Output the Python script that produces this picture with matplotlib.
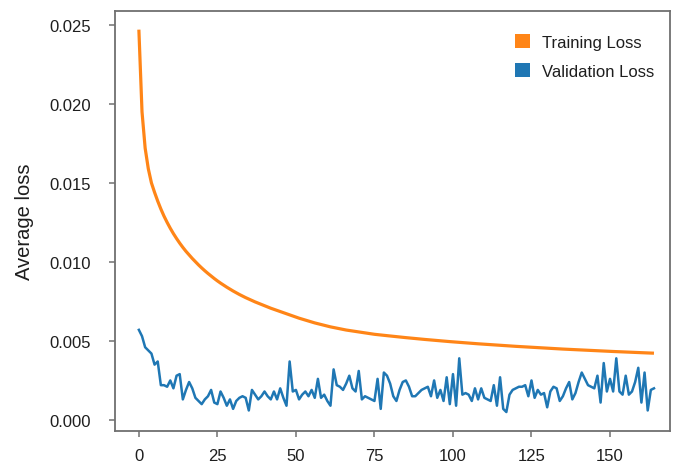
import numpy as np
import matplotlib
matplotlib.use("Agg")
import matplotlib.pyplot as plt
from matplotlib.patches import Patch

training_loss = [
    0.02470, 0.01950, 0.01720, 0.01590, 0.01500, 0.01440, 0.01385, 0.01335, 0.01290, 0.01250,
    0.01213, 0.01179, 0.01148, 0.01119, 0.01092, 0.01067, 0.01044, 0.01022, 0.01001, 0.00981,
    0.00962, 0.00944, 0.00927, 0.00911, 0.00895, 0.00880, 0.00866, 0.00853, 0.00840, 0.00828,
    0.00816, 0.00805, 0.00794, 0.00784, 0.00774, 0.00765, 0.00756, 0.00747, 0.00739, 0.00731,
    0.00723, 0.00715, 0.00707, 0.00700, 0.00693, 0.00686, 0.00679, 0.00672, 0.00665, 0.00658,
    0.00651, 0.00644, 0.00638, 0.00632, 0.00626, 0.00620, 0.00614, 0.00609, 0.00604, 0.00599,
    0.00594, 0.00589, 0.00585, 0.00581, 0.00577, 0.00573, 0.00569, 0.00566, 0.00563, 0.00560,
    0.00557, 0.00554, 0.00551, 0.00548, 0.00545, 0.00542, 0.00540, 0.00538, 0.00536, 0.005334,
    0.005312, 0.005291, 0.005270, 0.005249, 0.005229, 0.005209, 0.005189, 0.005170, 0.005151, 0.005132,
    0.005113, 0.005095, 0.005077, 0.005059, 0.005041, 0.005024, 0.005007, 0.004990, 0.004973, 0.004957,
    0.004941, 0.004925, 0.004909, 0.004893, 0.004878, 0.004863, 0.004848, 0.004833, 0.004819, 0.004805,
    0.004791, 0.004777, 0.004763, 0.004749, 0.004736, 0.004723, 0.004710, 0.004697, 0.004684, 0.004671,
    0.004658, 0.004646, 0.004634, 0.004622, 0.004610, 0.004598, 0.004586, 0.004574, 0.004562, 0.004551,
    0.004540, 0.004529, 0.004518, 0.004507, 0.004496, 0.004485, 0.004475, 0.004465, 0.004455, 0.004445,
    0.004435, 0.004425, 0.004415, 0.004405, 0.004395, 0.004386, 0.004377, 0.004368, 0.004359, 0.004350,
    0.004341, 0.004332, 0.004323, 0.004314, 0.004305, 0.004296, 0.004288, 0.004280, 0.004272, 0.004264,
    0.004256, 0.004248, 0.004240, 0.004232, 0.004224,
]

validation_loss = [
    0.0057, 0.0053, 0.0046, 0.0044, 0.0042, 0.0035, 0.0037, 0.0022, 0.0022, 0.0021,
    0.0025, 0.0020, 0.0028, 0.0029, 0.0013, 0.0019, 0.0024, 0.0020, 0.0014, 0.0012,
    0.0010, 0.0013, 0.0015, 0.0019, 0.0011, 0.0010, 0.0018, 0.0014, 0.0009, 0.0013,
    0.0007, 0.0012, 0.0014, 0.0015, 0.0014, 0.0006, 0.0019, 0.0016, 0.0013, 0.0015,
    0.0018, 0.0015, 0.0013, 0.0018, 0.0013, 0.0020, 0.0014, 0.0009, 0.0037, 0.0018,
    0.0019, 0.0013, 0.0016, 0.0018, 0.0015, 0.0019, 0.0014, 0.0026, 0.0014, 0.0016,
    0.0012, 0.0009, 0.0032, 0.0022, 0.0021, 0.0019, 0.0023, 0.0028, 0.0020, 0.0018,
    0.0031, 0.0013, 0.0015, 0.0014, 0.0013, 0.0012, 0.0026, 0.0007, 0.0030, 0.0028,
    0.0023, 0.0015, 0.0012, 0.0019, 0.0024, 0.0025, 0.0021, 0.0015, 0.0015, 0.0017,
    0.0019, 0.0020, 0.0021, 0.0015, 0.0025, 0.0014, 0.0019, 0.0012, 0.0027, 0.0010,
    0.0029, 0.0009, 0.0039, 0.0016, 0.0017, 0.0016, 0.0012, 0.0020, 0.0013, 0.0020,
    0.0014, 0.0013, 0.0012, 0.0022, 0.0009, 0.0027, 0.0007, 0.0005, 0.0016, 0.0019,
    0.0020, 0.0021, 0.0021, 0.0022, 0.0015, 0.0025, 0.0014, 0.0019, 0.0016, 0.0017,
    0.0008, 0.0018, 0.0021, 0.0020, 0.0012, 0.0015, 0.0020, 0.0024, 0.0013, 0.0017,
    0.0024, 0.0030, 0.0026, 0.0022, 0.0021, 0.0020, 0.0028, 0.0011, 0.0036, 0.0018,
    0.0026, 0.0018, 0.0039, 0.0018, 0.0016, 0.0028, 0.0016, 0.0018, 0.0024, 0.0033,
    0.0011, 0.0030, 0.0006, 0.0019, 0.0020,
]

x_ticks = [0, 25, 50, 75, 100, 125, 150]
y_ticks = [0.000, 0.005, 0.010, 0.015, 0.020, 0.025]
y_label = "Average loss"
series_labels = ["Training Loss", "Validation Loss"]

orange = "#ff8517"
blue = "#1f77b4"
grey = "#707070"
text_c = "#1e1e1e"

plt.rcParams['font.family'] = ['Liberation Sans', 'DejaVu Sans']

fig = plt.figure(figsize=(6.78, 4.64), dpi=100)
ax = fig.add_axes([115/678, 32/464, (670-115)/678, (432-12)/464])

ax.plot(np.arange(len(training_loss)), training_loss, color=orange, lw=2.3,
        solid_capstyle='butt')
ax.plot(np.arange(len(validation_loss)), validation_loss, color=blue, lw=1.8,
        solid_joinstyle='round')

ax.set_xlim(-7.6, 169.1)
ax.set_ylim(-0.0007, 0.02588)
ax.set_xticks(x_ticks)
ax.set_yticks(y_ticks)
ax.set_xticklabels([str(t) for t in x_ticks])
ax.set_yticklabels([f"{t:.3f}" for t in y_ticks])
ax.tick_params(direction='out', length=4.3, width=1.1, color=grey,
               labelsize=12, labelcolor=text_c)
ax.tick_params(axis='y', pad=13)
ax.tick_params(axis='x', pad=8)
for s in ax.spines.values():
    s.set_color(grey)
    s.set_linewidth(1.3)

ax.set_ylabel(y_label, fontsize=14.5, color=text_c)
ax.yaxis.set_label_coords(-0.146, 0.5)

handles = [Patch(facecolor=orange, edgecolor='none'),
           Patch(facecolor=blue, edgecolor='none')]
leg = ax.legend(handles, series_labels, loc='upper right', frameon=False,
                fontsize=12, handlelength=0.9, handleheight=0.9,
                handletextpad=0.75, labelspacing=0.8,
                bbox_to_anchor=(0.999, 0.98))
for t in leg.get_texts():
    t.set_color(text_c)

fig.savefig("out.png", dpi=100)
